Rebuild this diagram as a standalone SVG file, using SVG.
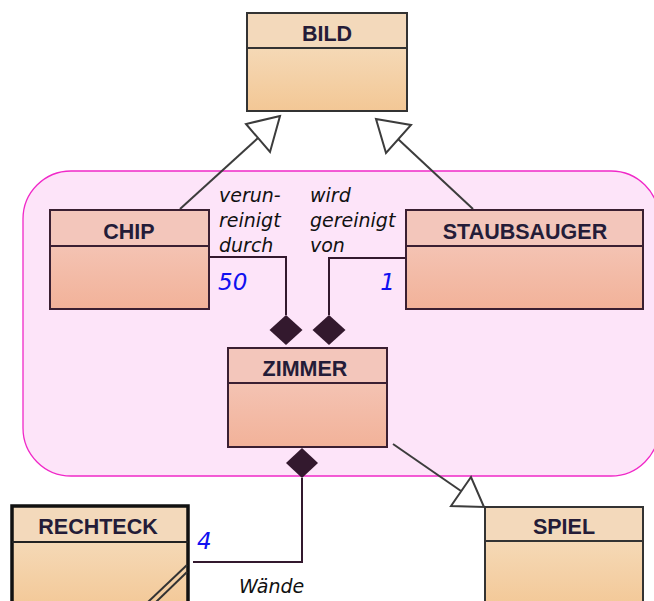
<svg xmlns="http://www.w3.org/2000/svg" width="654" height="601" viewBox="0 0 654 601">
  <defs>
    <linearGradient id="gSand" x1="0" y1="0" x2="0" y2="1">
      <stop offset="0" stop-color="#f5d9b6"/>
      <stop offset="1" stop-color="#f3c795"/>
    </linearGradient>
    <linearGradient id="gSalmon" x1="0" y1="0" x2="0" y2="1">
      <stop offset="0" stop-color="#f4c3b3"/>
      <stop offset="1" stop-color="#f2b299"/>
    </linearGradient>
    <style>
      .name { font-family: "Liberation Sans", Arial, sans-serif; font-weight: bold; font-size: 21.5px; fill: #241c38; text-anchor: middle; }
      .role { font-family: "DejaVu Sans", sans-serif; font-style: italic; font-size: 19px; fill: #111; }
      .mult { font-family: "DejaVu Sans", sans-serif; font-style: italic; font-size: 23px; fill: #1010f0; }
      .sandHead { fill: #f3d9bb; }
      .sandBody { fill: url(#gSand); }
      .salHead { fill: #f3c6bb; }
      .salBody { fill: url(#gSalmon); }
      .frameA { fill: none; stroke: #333; stroke-width: 2; }
      .frameB { fill: none; stroke: #3a1f32; stroke-width: 2; }
      .frameC { fill: none; stroke: #111; stroke-width: 3.5; }
      .comp { fill: none; stroke: #33192e; stroke-width: 2; }
      .diamond { fill: #33192e; }
      .gen { fill: none; stroke: #3c3c3c; stroke-width: 2; }
      .genHead { fill: #fff; stroke: #3c3c3c; stroke-width: 2; stroke-linejoin: miter; }
    </style>
  </defs>

  <rect width="654" height="601" fill="#fff"/>

  <!-- package area -->
  <rect id="area" x="23" y="171" width="636" height="305" rx="48" ry="48" fill="#fde4f9" stroke="#f028c8" stroke-width="1.3"/>

  <g id="connectors">
    <!-- generalizations -->
    <line class="gen" x1="180" y1="209" x2="258" y2="138"/>
    <polygon class="genHead" points="280,116 246,124 270,152"/>
    <line class="gen" x1="473" y1="209" x2="398" y2="139"/>
    <polygon class="genHead" points="376,119 411,125 386,153"/>
    <line class="gen" x1="393" y1="444" x2="461" y2="491"/>
    <polygon class="genHead" points="471,477 451,506 484,507"/>

    <!-- compositions -->
    <polyline class="comp" points="209,257 286,257 286,315"/>
    <polygon class="diamond" points="286,315 302.5,330 286,345 269.5,330"/>
    <polyline class="comp" points="406,258 329,258 329,315"/>
    <polygon class="diamond" points="329,315 345.5,330 329,345 312.5,330"/>
    <polygon class="diamond" points="302,448 318,463 302,478 286,463"/>
    <polyline class="comp" points="302,478 302,562 193,562"/>

    <!-- labels -->
    <text class="role" x="219" y="202">verun-</text>
    <text class="role" x="219" y="227">reinigt</text>
    <text class="role" x="219" y="252">durch</text>
    <text class="role" x="310" y="202">wird</text>
    <text class="role" x="310" y="227">gereinigt</text>
    <text class="role" x="310" y="252">von</text>
    <text class="mult" x="218" y="290">50</text>
    <text class="mult" x="395" y="290" text-anchor="end">1</text>
    <text class="mult" x="197" y="549">4</text>
    <text class="role" x="239" y="593">Wände</text>
  </g>

  <g id="bild">
    <rect class="sandHead" x="247" y="13" width="160" height="35"/>
    <rect class="sandBody" x="247" y="48" width="160" height="63"/>
    <rect class="frameA" x="247" y="13" width="160" height="98"/>
    <line class="frameA" x1="247" y1="48" x2="407" y2="48"/>
    <text class="name" x="327" y="40.5">BILD</text>
  </g>

  <g id="chip">
    <rect class="salHead" x="50" y="210" width="159" height="36"/>
    <rect class="salBody" x="50" y="246" width="159" height="63"/>
    <rect class="frameB" x="50" y="210" width="159" height="99"/>
    <line class="frameB" x1="50" y1="246" x2="209" y2="246"/>
    <text class="name" x="129" y="239">CHIP</text>
  </g>

  <g id="staubsauger">
    <rect class="salHead" x="406" y="210" width="237" height="36"/>
    <rect class="salBody" x="406" y="246" width="237" height="63"/>
    <rect class="frameB" x="406" y="210" width="237" height="99"/>
    <line class="frameB" x1="406" y1="246" x2="643" y2="246"/>
    <text class="name" x="525" y="238.5">STAUBSAUGER</text>
  </g>

  <g id="zimmer">
    <rect class="salHead" x="228" y="348" width="159" height="35"/>
    <rect class="salBody" x="228" y="383" width="159" height="64"/>
    <rect class="frameB" x="228" y="348" width="159" height="99"/>
    <line class="frameB" x1="228" y1="383" x2="387" y2="383"/>
    <text class="name" x="305" y="376">ZIMMER</text>
  </g>

  <g id="rechteck">
    <rect class="sandHead" x="12" y="506" width="176" height="36"/>
    <rect class="sandBody" x="12" y="542" width="176" height="70"/>
    <rect class="frameC" x="12" y="506" width="176" height="110"/>
    <line x1="12" y1="542" x2="188" y2="542" stroke="#222" stroke-width="2"/>
    <line x1="187" y1="565" x2="148" y2="602" stroke="#333" stroke-width="2"/>
    <line x1="187" y1="572" x2="156" y2="602" stroke="#333" stroke-width="2"/>
    <text class="name" x="98" y="534">RECHTECK</text>
  </g>

  <g id="spiel">
    <rect class="sandHead" x="485" y="507" width="158" height="34"/>
    <rect class="sandBody" x="485" y="541" width="158" height="70"/>
    <rect class="frameA" x="485" y="507" width="158" height="110"/>
    <line class="frameA" x1="485" y1="541" x2="643" y2="541"/>
    <text class="name" x="564" y="534">SPIEL</text>
  </g>
</svg>
